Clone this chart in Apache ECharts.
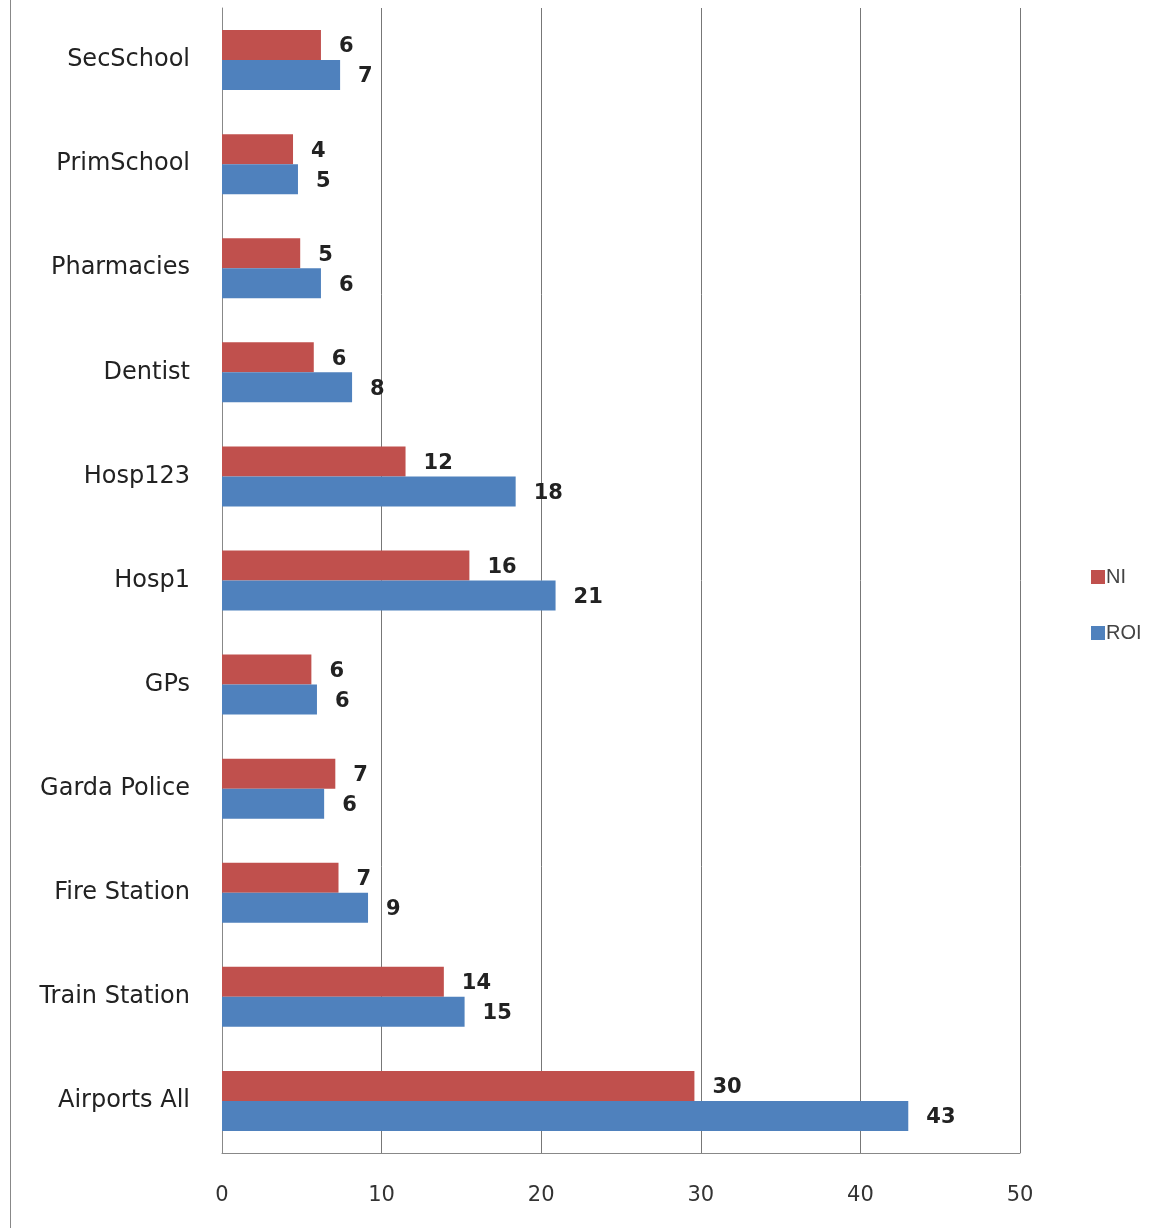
<!DOCTYPE html>
<html>
<head>
<meta charset="utf-8">
<script src="https://cdn.jsdelivr.net/npm/echarts@6/dist/echarts.min.js"></script>
<style>
html,body{margin:0;padding:0;background:#fff;}
#chart{width:1176px;height:1228px;}
</style>
</head>
<body>
<div id="chart"></div>
<script>
const categories = ["SecSchool","PrimSchool","Pharmacies","Dentist","Hosp123","Hosp1","GPs","Garda Police","Fire Station","Train Station","Airports All"];
const niValues  = [6.2, 4.45, 4.9, 5.75, 11.5, 15.5, 5.6, 7.1, 7.3, 13.9, 29.6];
const roiValues = [7.4, 4.76, 6.2, 8.15, 18.4, 20.9, 5.95, 6.4, 9.15, 15.2, 43.0];
const niLabels  = [6, 4, 5, 6, 12, 16, 6, 7, 7, 14, 30];
const roiLabels = [7, 5, 6, 8, 18, 21, 6, 6, 9, 15, 43];
const xTicks = [0, 10, 20, 30, 40, 50];

const FONT = '"DejaVu Sans", "Liberation Sans", sans-serif';
const chart = echarts.init(document.getElementById('chart'), null, {renderer: 'canvas'});
const labelStyle = (arr) => ({
  show: true, position: 'right', distance: 18, offset: [0, 2],
  fontFamily: FONT, fontSize: 21, fontWeight: 'bold', color: '#222',
  formatter: p => String(arr[p.dataIndex])
});
chart.setOption({
  animation: false,
  backgroundColor: '#fff',
  grid: {left: 222, right: 156, top: 8, bottom: 75, containLabel: false},
  legend: {
    orient: 'vertical', left: 1086, top: 562,
    itemWidth: 14, itemHeight: 14, itemGap: 36,
    icon: 'rect',
    textStyle: {fontFamily: '"Liberation Sans", sans-serif', fontSize: 20, color: '#444', padding: [0,0,0,-4]},
    data: ['NI', 'ROI']
  },
  xAxis: {
    type: 'value', min: 0, max: 50, interval: 10,
    axisLine: {show: true, lineStyle: {color: '#888', width: 1}},
    axisTick: {show: false},
    splitLine: {show: true, lineStyle: {color: '#777', width: 1}},
    axisLabel: {fontFamily: FONT, fontSize: 21, color: '#333', margin: 32,
      formatter: v => xTicks.includes(v) ? String(v) : ''}
  },
  yAxis: {
    type: 'category', inverse: true, data: categories,
    axisLine: {show: true, lineStyle: {color: '#888', width: 1}},
    axisTick: {show: false},
    axisLabel: {fontFamily: FONT, fontSize: 24, color: '#222', margin: 32}
  },
  series: [
    {name: 'NI', type: 'bar', data: niValues, barWidth: 30, barGap: '0%',
     itemStyle: {color: '#C0504D'}, label: labelStyle(niLabels)},
    {name: 'ROI', type: 'bar', data: roiValues, barWidth: 30, barGap: '0%',
     itemStyle: {color: '#4F81BD'}, label: labelStyle(roiLabels)}
  ],
  graphic: [
    {type: 'line', shape: {x1: 10.5, y1: 0, x2: 10.5, y2: 1228},
     style: {stroke: '#888', lineWidth: 1}}
  ]
});
</script>
</body>
</html>
